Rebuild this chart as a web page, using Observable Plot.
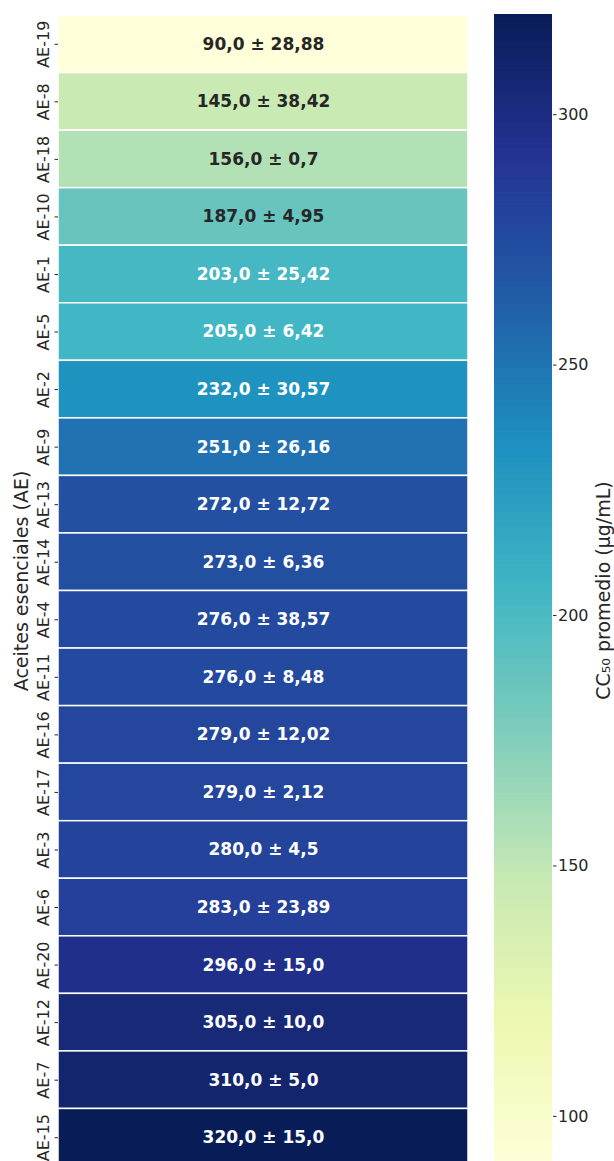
<!DOCTYPE html>
<html>
<head>
<meta charset="utf-8">
<script src="https://cdn.jsdelivr.net/npm/d3@7"></script>
<script src="https://cdn.jsdelivr.net/npm/@observablehq/plot@0.6"></script>
<style>
  html, body { margin: 0; padding: 0; background: #fff; }
  #wrap { position: relative; width: 614px; height: 1161px; overflow: hidden; font-family: "DejaVu Sans", sans-serif; }
  #main { position: absolute; left: 0; top: 0; }
  #bar { position: absolute; left: 494px; top: 0; }
  svg { overflow: visible; }
</style>
</head>
<body>
<div id="wrap"><div id="main"></div><div id="bar"></div></div>
<script>
// Data
const names = ["AE-19","AE-8","AE-18","AE-10","AE-1","AE-5","AE-2","AE-9","AE-13","AE-14","AE-4","AE-11","AE-16","AE-17","AE-3","AE-6","AE-20","AE-12","AE-7","AE-15"];
const means = [90,145,156,187,203,205,232,251,272,273,276,276,279,279,280,283,296,305,310,320];
const sds = [28.88,38.42,0.7,4.95,25.42,6.42,30.57,26.16,12.72,6.36,38.57,8.48,12.02,2.12,4.5,23.89,15.0,10.0,5.0,15.0];
const colorbarTicks = [100,150,200,250,300];
const yTitle = "Aceites esenciales (AE)";
const cbTitle = "CC\u2085\u2080 promedio (\u00b5g/mL)";

const ylgnbu = ["#ffffd9","#edf8b1","#c7e9b4","#7fcdbb","#41b6c4","#1d91c0","#225ea8","#253494","#081d58"];
const vmin = d3.min(means), vmax = d3.max(means);
const stops = ylgnbu.map((_, i) => vmin + i * (vmax - vmin) / (ylgnbu.length - 1));
const colorScale = {type: "linear", domain: stops, range: ylgnbu, interpolate: "rgb"};

const fmt = v => (Number.isInteger(v) ? v.toFixed(1) : String(v)).replace(".", ",");
const data = names.map((n, i) => ({name: n, mean: means[i], sd: sds[i], label: `${fmt(means[i])} \u00b1 ${fmt(sds[i])}`}));

const ink = "#262626";
const font = "DejaVu Sans";

const main = Plot.plot({
  width: 468, height: 1167,
  marginLeft: 58, marginRight: 0, marginTop: 15, marginBottom: 1,
  style: {fontFamily: font, color: ink, background: "transparent"},
  y: {domain: names, padding: 0, round: false, label: null},
  color: colorScale,
  marks: [
    Plot.cell(data, {y: "name", fill: "mean", stroke: "white", strokeWidth: 1.5}),
    Plot.text(data, {y: "name", text: "label", frameAnchor: "middle", fontSize: 17, fontWeight: "bold",
      fill: d => d.mean < 195 ? ink : "white"}),
    Plot.axisY({tickSize: 3.5, tickFormat: () => "", label: null, stroke: ink}),
    Plot.text(data, {y: "name", text: "name", frameAnchor: "left", dx: -10, rotate: -90,
      lineAnchor: "bottom", textAnchor: "middle", fontSize: 16, fill: ink}),
    Plot.text([yTitle], {frameAnchor: "left", dx: -31, dy: -10, rotate: -90, lineAnchor: "bottom",
      textAnchor: "middle", fontSize: 19, fill: ink})
  ]
});
document.getElementById("main").appendChild(main);

const slices = d3.range(vmin, vmax, 0.25);
const bar = Plot.plot({
  width: 120, height: 1167,
  marginLeft: 0, marginRight: 62, marginTop: 14, marginBottom: 1,
  style: {fontFamily: font, color: ink, background: "transparent"},
  y: {domain: [vmin, vmax], label: null},
  color: colorScale,
  marks: [
    Plot.rect(slices, {y1: d => d, y2: d => Math.min(vmax, d + 0.5), fill: d => d}),
    Plot.axisY({anchor: "right", ticks: colorbarTicks, tickSize: 3.5, tickPadding: 2, fontSize: 16, label: null, stroke: ink}),
    Plot.text([cbTitle], {frameAnchor: "right", dx: 57, rotate: -90, lineAnchor: "bottom",
      textAnchor: "middle", fontSize: 19, fill: ink})
  ]
});
document.getElementById("bar").appendChild(bar);
</script>
</body>
</html>
